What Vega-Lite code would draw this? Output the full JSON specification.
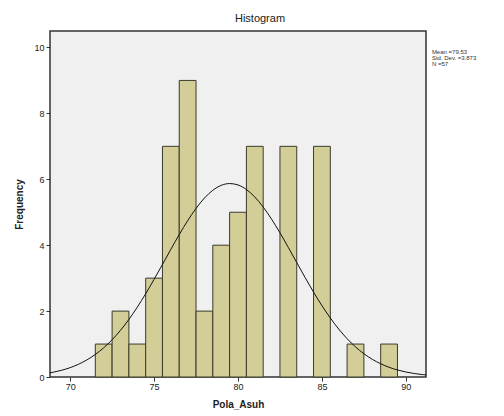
{
  "$schema": "https://vega.github.io/schema/vega-lite/v6.json",
  "width": 376,
  "height": 346,
  "autosize": {"type": "none"},
  "padding": {"left": 50, "top": 31, "right": 78, "bottom": 39},
  "background": "white",
  "config": {
    "font": "Liberation Sans",
    "view": {"fill": "#f0f0f0", "stroke": "#333333", "strokeWidth": 1.5},
    "axis": {"grid": false, "domain": false, "tickColor": "#333333", "labelColor": "#222222", "labelFontSize": 9, "titleFontSize": 10, "titleFontWeight": "bold", "titleColor": "#222222", "tickSize": 4}
  },
  "title": {"text": "Histogram", "fontSize": 11, "fontWeight": "normal", "color": "#222222", "anchor": "middle", "dx": 22, "offset": 7},
  "datasets": {
    "bins": [
      {"start": 71.5, "end": 72.5, "count": 1},
      {"start": 72.5, "end": 73.5, "count": 2},
      {"start": 73.5, "end": 74.5, "count": 1},
      {"start": 74.5, "end": 75.5, "count": 3},
      {"start": 75.5, "end": 76.5, "count": 7},
      {"start": 76.5, "end": 77.5, "count": 9},
      {"start": 77.5, "end": 78.5, "count": 2},
      {"start": 78.5, "end": 79.5, "count": 4},
      {"start": 79.5, "end": 80.5, "count": 5},
      {"start": 80.5, "end": 81.5, "count": 7},
      {"start": 82.5, "end": 83.5, "count": 7},
      {"start": 84.5, "end": 85.5, "count": 7},
      {"start": 86.5, "end": 87.5, "count": 1},
      {"start": 88.5, "end": 89.5, "count": 1}
    ],
    "curve": [
      {"x": 68.8, "y": 0.126}, {"x": 69, "y": 0.146}, {"x": 69.5, "y": 0.205}, {"x": 70, "y": 0.284},
      {"x": 70.5, "y": 0.387}, {"x": 71, "y": 0.519}, {"x": 71.5, "y": 0.685}, {"x": 72, "y": 0.887},
      {"x": 72.5, "y": 1.131}, {"x": 73, "y": 1.417}, {"x": 73.5, "y": 1.747}, {"x": 74, "y": 2.119},
      {"x": 74.5, "y": 2.526}, {"x": 75, "y": 2.963}, {"x": 75.5, "y": 3.416}, {"x": 76, "y": 3.875},
      {"x": 76.5, "y": 4.323}, {"x": 77, "y": 4.743}, {"x": 77.5, "y": 5.117}, {"x": 78, "y": 5.43},
      {"x": 78.5, "y": 5.667}, {"x": 79, "y": 5.816}, {"x": 79.5, "y": 5.871}, {"x": 80, "y": 5.828},
      {"x": 80.5, "y": 5.69}, {"x": 81, "y": 5.463}, {"x": 81.5, "y": 5.158}, {"x": 82, "y": 4.791},
      {"x": 82.5, "y": 4.376}, {"x": 83, "y": 3.93}, {"x": 83.5, "y": 3.472}, {"x": 84, "y": 3.017},
      {"x": 84.5, "y": 2.577}, {"x": 85, "y": 2.165}, {"x": 85.5, "y": 1.79}, {"x": 86, "y": 1.455},
      {"x": 86.5, "y": 1.163}, {"x": 87, "y": 0.914}, {"x": 87.5, "y": 0.707}, {"x": 88, "y": 0.537},
      {"x": 88.5, "y": 0.402}, {"x": 89, "y": 0.295}, {"x": 89.5, "y": 0.214}, {"x": 90, "y": 0.152},
      {"x": 90.5, "y": 0.106}, {"x": 91, "y": 0.073}, {"x": 91.2, "y": 0.063}
    ],
    "stats": [
      {"label": "Mean =79.53", "ly": 9.85},
      {"label": "Std. Dev. =3.873", "ly": 9.67},
      {"label": "N =57", "ly": 9.49}
    ]
  },
  "layer": [
    {
      "data": {"name": "bins"},
      "mark": {"type": "rect", "fill": "#d3ce97", "stroke": "#3a3a2a", "strokeWidth": 1},
      "encoding": {
        "x": {"field": "start", "type": "quantitative", "scale": {"domain": [68.8, 91.2], "nice": false, "zero": false},
              "axis": {"values": [70, 75, 80, 85, 90], "title": "Pola_Asuh", "titlePadding": 8, "labelPadding": 1}},
        "x2": {"field": "end"},
        "y": {"field": "count", "type": "quantitative", "scale": {"domain": [0, 10.5], "nice": false},
              "axis": {"values": [0, 2, 4, 6, 8, 10], "title": "Frequency", "titlePadding": 9}},
        "y2": {"datum": 0}
      }
    },
    {
      "data": {"name": "curve"},
      "mark": {"type": "line", "color": "#111111", "strokeWidth": 1, "interpolate": "monotone", "clip": true},
      "encoding": {
        "x": {"field": "x", "type": "quantitative"},
        "y": {"field": "y", "type": "quantitative"}
      }
    },
    {
      "data": {"name": "stats"},
      "mark": {"type": "text", "align": "left", "baseline": "middle", "fontSize": 6, "color": "#333333", "clip": false},
      "encoding": {
        "x": {"datum": 91.55},
        "y": {"field": "ly", "type": "quantitative"},
        "text": {"field": "label"}
      }
    }
  ]
}
